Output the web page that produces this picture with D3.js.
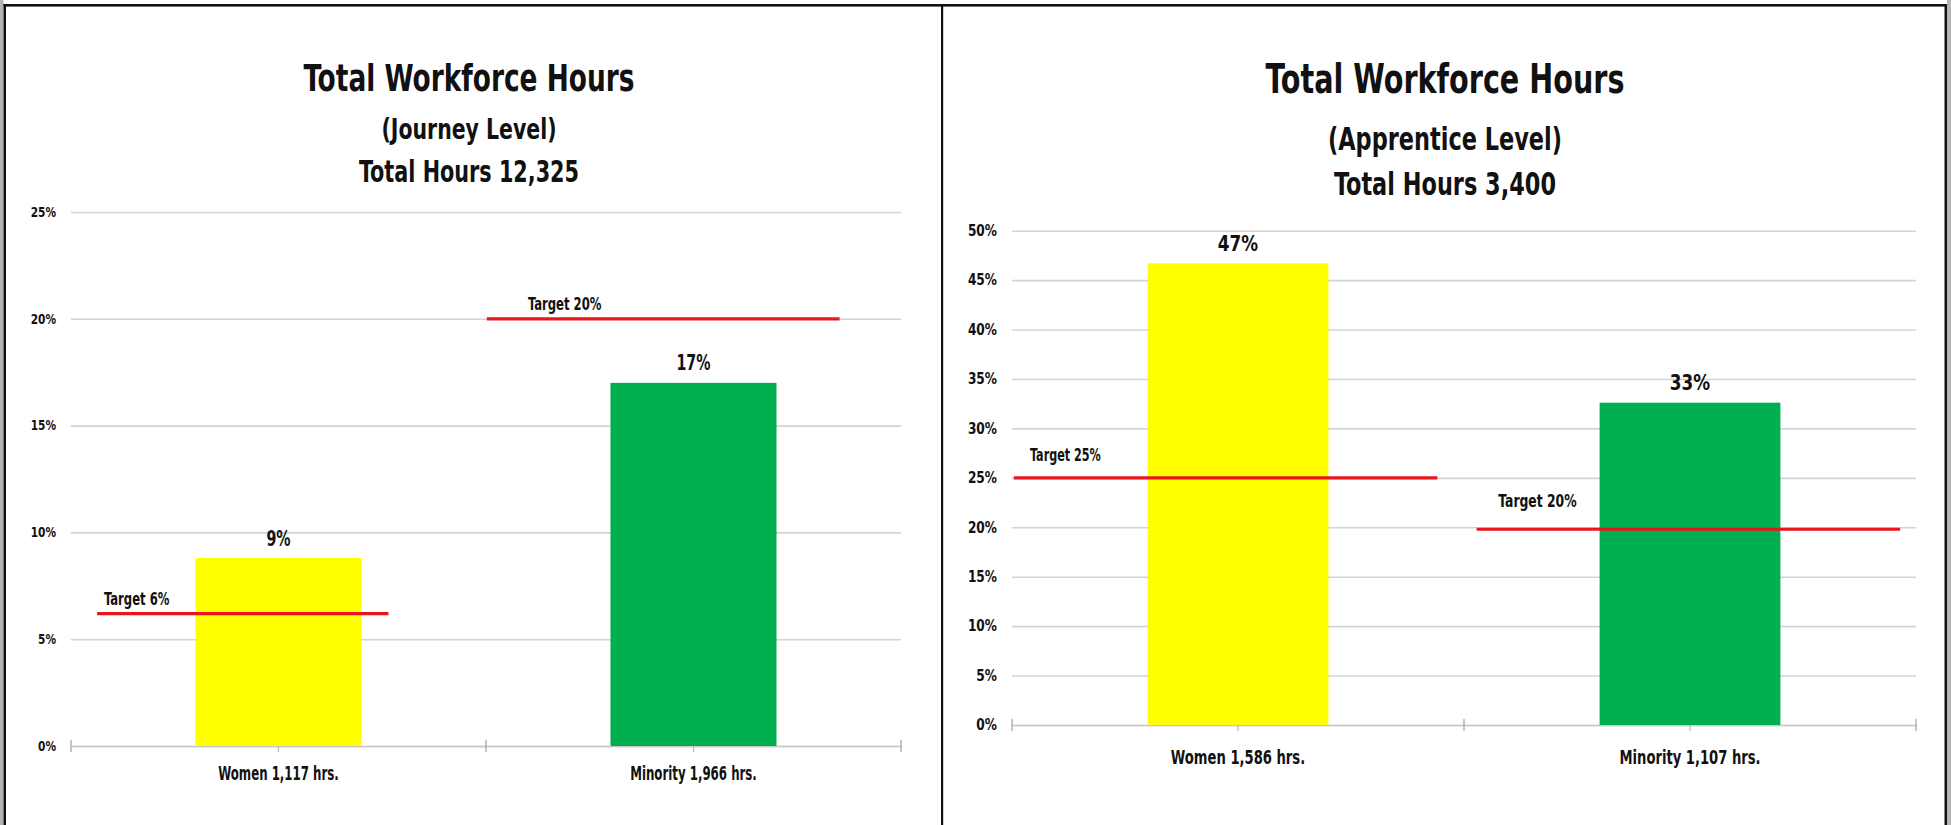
<!DOCTYPE html>
<html>
<head>
<meta charset="utf-8">
<script src="https://cdn.jsdelivr.net/npm/d3@7"></script>
<style>
  html, body { margin: 0; padding: 0; background: #ffffff; }
  svg { display: block; }
  text { font-family: "Liberation Sans Narrow", "Arial Narrow", "DejaVu Sans Condensed", sans-serif; fill: #111; }
</style>
</head>
<body>
<svg id="chart" width="1951" height="825"></svg>
<script>
// ---------- DATA ----------
const leftTitle = ["Total Workforce Hours", "(Journey Level)", "Total Hours 12,325"];
const leftCategories = ["Women 1,117 hrs.", "Minority 1,966 hrs."];
const leftValues = [8.8, 17.0];
const leftValueLabels = ["9%", "17%"];
const leftTargets = [6.2, 20.0];
const leftTargetLabels = ["Target 6%", "Target 20%"];
const leftTicks = [0, 5, 10, 15, 20, 25];

const rightTitle = ["Total Workforce Hours", "(Apprentice Level)", "Total Hours 3,400"];
const rightCategories = ["Women 1,586 hrs.", "Minority 1,107 hrs."];
const rightValues = [46.7, 32.6];
const rightValueLabels = ["47%", "33%"];
const rightTargets = [25.0, 19.8];
const rightTargetLabels = ["Target 25%", "Target 20%"];
const rightTicks = [0, 5, 10, 15, 20, 25, 30, 35, 40, 45, 50];

const barColors = ["#FFFF00", "#00B050"];

// ---------- LAYOUT / STYLE ----------
const panels = [
  {
    title: leftTitle, categories: leftCategories, values: leftValues, valueLabels: leftValueLabels,
    targets: leftTargets, targetLabels: leftTargetLabels, ticks: leftTicks, yMax: 25,
    x0: 71, x1: 901, yBottom: 746, yTop: 212,
    titleX: 469, titleY: [91, 138.5, 182], titleSize: [38, 29, 30], titleLen: [331, 175, 220],
    yLabelSize: 13.5, yK: 0.87,
    catSize: 19, catK: 0.69, catBaseline: 780,
    valSize: 22, valK: 0.72,
    tgtSize: 17, tgtK: [0.76, 0.76],
    targetSpan: [[0.063, 0.765], [1.002, 1.852]],
    targetLabelPos: [[0.0795, -9], [1.101, -8.5]]
  },
  {
    title: rightTitle, categories: rightCategories, values: rightValues, valueLabels: rightValueLabels,
    targets: rightTargets, targetLabels: rightTargetLabels, ticks: rightTicks, yMax: 50,
    x0: 1012, x1: 1916, yBottom: 725, yTop: 230.7,
    titleX: 1445, titleY: [93, 150, 195], titleSize: [41, 32.5, 32.5], titleLen: [359, 234, 222],
    yLabelSize: 15, yK: 0.9,
    catSize: 20, catK: 0.73, catBaseline: 764,
    valSize: 22, valK: 0.85,
    tgtSize: 17, tgtK: [0.73, 0.81],
    targetSpan: [[0.004, 0.941], [1.028, 1.965]],
    targetLabelPos: [[0.04, -17], [1.076, -22.5]]
  }
];

// narrow a text element horizontally (keeps its height)
function narrow(sel, k) {
  sel.each(function (d, i) {
    const kk = Array.isArray(k) ? k[i] : k;
    const w = this.getComputedTextLength();
    d3.select(this).attr("textLength", w * kk).attr("lengthAdjust", "spacingAndGlyphs");
  });
}

const svg = d3.select("#chart");
svg.append("rect").attr("width", 1951).attr("height", 825).attr("fill", "#fff");

panels.forEach(p => {
  const g = svg.append("g");
  const x = d3.scaleBand().domain(p.categories).range([p.x0, p.x1]).paddingInner(0.6).paddingOuter(0.3);
  const xu = d3.scaleLinear().domain([0, 2]).range([p.x0, p.x1]);
  const y = d3.scaleLinear().domain([0, p.yMax]).range([p.yBottom, p.yTop]);

  // titles
  p.title.forEach((t, i) => {
    g.append("text").attr("x", p.titleX).attr("y", p.titleY[i])
      .attr("text-anchor", "middle").attr("font-weight", "bold")
      .attr("font-size", p.titleSize[i])
      .attr("textLength", p.titleLen[i]).attr("lengthAdjust", "spacingAndGlyphs")
      .text(t);
  });

  // y axis with gridlines
  const yAxis = d3.axisLeft(y).tickValues(p.ticks).tickFormat(d => d + "%")
    .tickSizeInner(-(p.x1 - p.x0)).tickSizeOuter(0).tickPadding(15);
  const ya = g.append("g").attr("transform", `translate(${p.x0},0)`).call(yAxis);
  ya.select(".domain").remove();
  ya.selectAll(".tick line").attr("stroke", "#d3d3d3").attr("stroke-width", 1.6);
  const yt = ya.selectAll(".tick text").attr("font-size", p.yLabelSize).attr("font-weight", "bold")
    .attr("fill", "#1a1a1a").attr("font-family", null);
  narrow(yt, p.yK);

  // x axis: center ticks + labels
  const xAxis = d3.axisBottom(x).tickSizeInner(6).tickSizeOuter(0).tickPadding(0);
  const xa = g.append("g").attr("transform", `translate(0,${p.yBottom})`).call(xAxis);
  xa.select(".domain").attr("stroke", "#c8c8c8").attr("stroke-width", 1.6);
  xa.selectAll(".tick line").attr("stroke", "#bdbdbd").attr("stroke-width", 1.3);
  const xt = xa.selectAll(".tick text").attr("font-size", p.catSize).attr("font-weight", "bold")
    .attr("fill", "#111").attr("font-family", null)
    .attr("dy", null).attr("y", p.catBaseline - p.yBottom);
  narrow(xt, p.catK);

  // boundary ticks
  g.selectAll(".btick").data([0, 1, 2]).join("line")
    .attr("x1", d => xu(d)).attr("x2", d => xu(d))
    .attr("y1", p.yBottom - 6).attr("y2", p.yBottom + 6)
    .attr("stroke", "#a8a8a8").attr("stroke-width", 1.3);

  // bars
  g.selectAll(".bar").data(p.values).join("rect")
    .attr("x", (d, i) => x(p.categories[i]))
    .attr("width", x.bandwidth())
    .attr("y", d => y(d))
    .attr("height", d => y(0) - y(d))
    .attr("fill", (d, i) => barColors[i]);

  // value labels
  const vt = g.selectAll(".val").data(p.values).join("text")
    .attr("x", (d, i) => x(p.categories[i]) + x.bandwidth() / 2)
    .attr("y", d => y(d) - 12.5)
    .attr("text-anchor", "middle").attr("font-weight", "bold")
    .attr("font-size", p.valSize)
    .text((d, i) => p.valueLabels[i]);
  narrow(vt, p.valK);

  // target lines
  g.selectAll(".tgt").data(p.targets).join("line")
    .attr("x1", (d, i) => xu(p.targetSpan[i][0]))
    .attr("x2", (d, i) => xu(p.targetSpan[i][1]))
    .attr("y1", d => y(d)).attr("y2", d => y(d))
    .attr("stroke", "#e8161b").attr("stroke-width", 3.2);

  // target labels
  const tt = g.selectAll(".tgtl").data(p.targets).join("text")
    .attr("x", (d, i) => xu(p.targetLabelPos[i][0]))
    .attr("y", (d, i) => y(d) + p.targetLabelPos[i][1])
    .attr("font-weight", "bold").attr("font-size", p.tgtSize)
    .text((d, i) => p.targetLabels[i]);
  narrow(tt, p.tgtK);
});

// frame
svg.append("rect").attr("x", 0).attr("y", 0).attr("width", 3.5).attr("height", 825).attr("fill", "#b4b4b4");
svg.append("rect").attr("x", 1947).attr("y", 0).attr("width", 4).attr("height", 825).attr("fill", "#b4b4b4");
svg.append("rect").attr("x", 3.5).attr("y", 4).attr("width", 1943.5).attr("height", 2.6).attr("fill", "#111");
svg.append("rect").attr("x", 3.5).attr("y", 4).attr("width", 2.5).attr("height", 821).attr("fill", "#111");
svg.append("rect").attr("x", 1944.5).attr("y", 4).attr("width", 2.5).attr("height", 821).attr("fill", "#111");
svg.append("rect").attr("x", 941).attr("y", 4).attr("width", 2.2).attr("height", 821).attr("fill", "#111");
</script>
</body>
</html>
